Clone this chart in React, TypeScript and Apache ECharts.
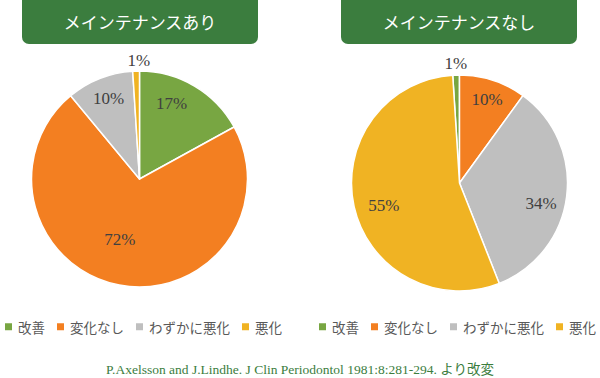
import React, { useEffect, useRef } from "react";
import * as echarts from "echarts";

const categories = ["改善", "変化なし", "わずかに悪化", "悪化"];
const withMaintenance = [17, 72, 10, 1];
const withoutMaintenance = [1, 10, 34, 55];
const titles = ["メインテナンスあり", "メインテナンスなし"];
const source = "P.Axelsson and J.Lindhe. J Clin Periodontol 1981:8:281-294. より改変";

const colors = ["#78a642", "#f37f21", "#bfbfbf", "#f0b323"];
const leftLabelOffsets = [[3, -26], [-9, 5], [-10, -28], [1, -62]];
const rightLabelOffsets = [[-2, -63], [10, -29], [25, 13], [-20, 10]];

const GREEN = "#3b7d3e";

function buildData(values: number[], offsets: number[][]) {
  return categories.map((name, i) => ({
    name,
    value: values[i],
    itemStyle: { color: colors[i] },
    label: { offset: offsets[i] },
  }));
}

export default function App() {
  const ref = useRef<HTMLDivElement>(null);
  useEffect(() => {
    document.body.style.margin = "0";
    const chart = echarts.init(ref.current!, null, { renderer: "svg" });
    const pieCommon = {
      type: "pie",
      radius: 108,
      clockwise: true,
      avoidLabelOverlap: false,
      emphasis: { disabled: true },
      itemStyle: { borderColor: "#ffffff", borderWidth: 1.5 },
      label: {
        show: true,
        position: "inside",
        formatter: "{c}%",
        color: "#404040",
        fontFamily: "Liberation Serif",
        fontSize: 17,
      },
      labelLine: { show: false },
    };
    const legendCommon = {
      data: categories,
      top: 320,
      padding: 0,
      icon: "rect",
      itemWidth: 9,
      itemHeight: 9,
      itemGap: 10,
      selectedMode: false,
      textStyle: {
        fontFamily: "Noto Sans CJK JP",
        fontSize: 13.5,
        color: "#595959",
      },
    };
    chart.setOption({
      animation: false,
      backgroundColor: "#ffffff",
      legend: [
        { ...legendCommon, left: 3 },
        { ...legendCommon, left: 317 },
      ],
      graphic: [
        {
          type: "rect",
          shape: { x: 22, y: -8, width: 236, height: 52, r: 7 },
          style: { fill: GREEN },
        },
        {
          type: "rect",
          shape: { x: 341, y: -8, width: 236, height: 52, r: 7 },
          style: { fill: GREEN },
        },
        {
          type: "text",
          x: 140,
          y: 21,
          style: {
            text: titles[0],
            fill: "#ffffff",
            fontFamily: "Noto Sans CJK JP",
            fontSize: 17,
            align: "center",
            verticalAlign: "middle",
          },
        },
        {
          type: "text",
          x: 459,
          y: 21,
          style: {
            text: titles[1],
            fill: "#ffffff",
            fontFamily: "Noto Sans CJK JP",
            fontSize: 17,
            align: "center",
            verticalAlign: "middle",
          },
        },
        {
          type: "text",
          x: 300,
          y: 369,
          style: {
            text: source,
            fill: GREEN,
            fontFamily: "Liberation Serif, Noto Sans CJK JP",
            fontSize: 13.5,
            align: "center",
            verticalAlign: "middle",
          },
        },
      ],
      series: [
        {
          ...pieCommon,
          name: titles[0],
          center: [139.5, 179],
          startAngle: 90,
          data: buildData(withMaintenance, leftLabelOffsets),
        },
        {
          ...pieCommon,
          name: titles[1],
          center: [459.5, 183],
          startAngle: 93.6,
          data: buildData(withoutMaintenance, rightLabelOffsets),
        },
      ],
    });
    return () => chart.dispose();
  }, []);
  return <div ref={ref} style={{ width: 600, height: 378 }} />;
}
